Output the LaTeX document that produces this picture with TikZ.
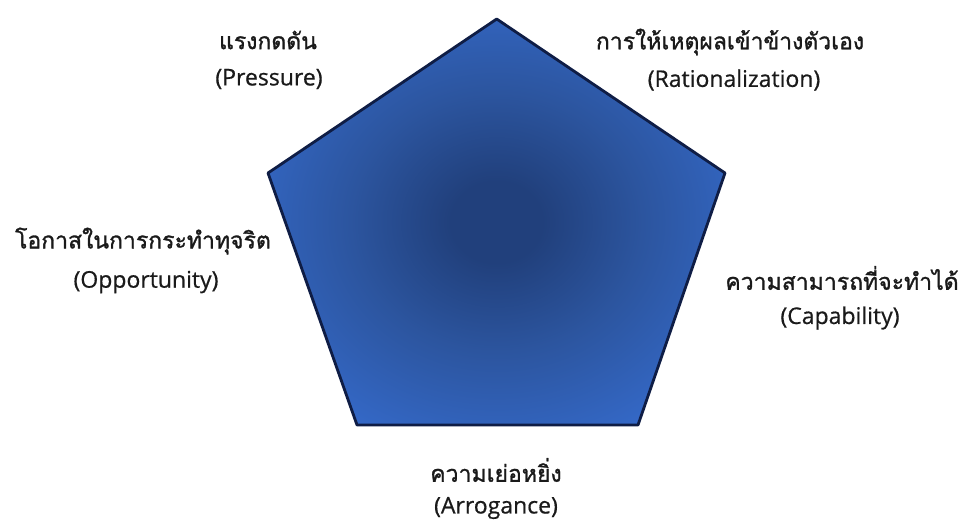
\documentclass[tikz,border=0pt]{standalone}
\usepackage{fontspec}
\setmainfont[FakeBold=0.6]{Open Sans}
\newfontfamily\thaifont[Script=Thai,FakeBold=1.2]{Loma}
\definecolor{pcenter}{HTML}{21407C}
\definecolor{pmid}{HTML}{2C559F}
\definecolor{pouter}{HTML}{3468C6}
\definecolor{penedge}{HTML}{0F1D45}
\definecolor{labeltext}{HTML}{1A1A1A}
\pgfdeclareradialshading{pentshade}{\pgfpoint{0bp}{0bp}}{color(0bp)=(pcenter); color(5bp)=(pcenter); color(16bp)=(pmid); color(29bp)=(pouter); color(50bp)=(pouter)}
\tikzset{
  th/.style={font=\thaifont\fontsize{23}{26}\selectfont, text=labeltext, inner sep=0pt},
  en/.style={font=\fontsize{23}{26}\selectfont, text=labeltext, inner sep=0pt},
  pentagon/.style={shading=pentshade, draw=penedge, line width=2.8pt, line join=round}
}
\begin{document}
\begin{tikzpicture}[x=1pt,y=-1pt]
\useasboundingbox (0,0) rectangle (963,523);
\fill[white] (0,0) rectangle (963,523);
\coordinate (top) at (496.7,19);
\coordinate (ur) at (725,173);
\coordinate (lr) at (638,425);
\coordinate (ll) at (357,425);
\coordinate (ul) at (268,173);
\shade[pentagon] (top) -- (ur) -- (lr) -- (ll) -- (ul) -- cycle;
\node[th] (pth) at (268,40) {แรงกดดัน};
\node[en] (pen) at (269,79) {(Pressure)};
\node[th] (rth) at (730,42) {การให้เหตุผลเข้าข้างตัวเอง};
\node[en] (ren) at (734,80) {(Rationalization)};
\node[th] (oth) at (143,241) {โอกาสในการกระทำทุจริต};
\node[en] (oen) at (146,282) {(Opportunity)};
\node[th] (cth) at (842,278) {ความสามารถที่จะทำได้};
\node[en] (cen) at (840,318) {(Capability)};
\node[th] (ath) at (496,470) {ความเย่อหยิ่ง};
\node[en] (aen) at (496,508) {(Arrogance)};
\end{tikzpicture}
\end{document}
